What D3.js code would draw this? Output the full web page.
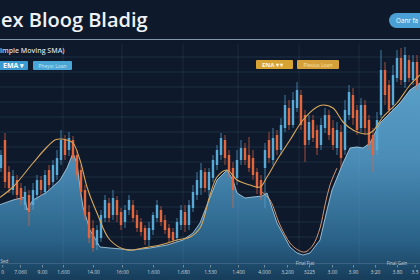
<!DOCTYPE html>
<html><head><meta charset="utf-8">
<script src="https://cdn.jsdelivr.net/npm/d3@7"></script>
<style>html,body{margin:0;padding:0;background:#0e1a2b;overflow:hidden}svg{display:block}</style>
</head><body><svg id="c" width="420" height="280"></svg>
<script>
// ---- data ----
const candleOpen  = [97,125,93,75,85,77,60,70,60,70, 85,73,95,83,90,105,125,115,125,110, 95,75,53,37,20,27,47,62,50,65, 53,43,55,60,50,43,37,25,35,47, 55,45,37,33,27,40,53,40,57,70, 77,93,75,87,100,110,125,110,97,87, 105,117,110,107,93,85,97,125,105,130, 115,137,157,140,157,170,150,125,145,135, 120,137,150,137,117,133,115,150,170,155, 137,160,145,130,115,150,195,180,160,187, 207,183,205,185,203];
const candleClose = [110,83,77,89,70,65,73,53,75,85, 75,90,80,100,107,125,110,127,107,90, 73,50,27,17,35,50,65,47,67,50, 40,55,65,47,37,33,25,37,50,60, 43,35,27,25,43,55,40,60,73,85, 95,77,93,105,115,127,107,93,75,105, 117,105,97,90,77,70,115,107,127,115, 140,160,140,165,175,140,120,143,127,117, 140,150,130,120,135,107,155,173,147,135, 160,137,120,110,145,195,170,155,190,207, 185,210,187,203,180];
const candleHigh  = [115,132,99,95,90,82,79,75,82,90, 89,95,100,105,115,135,130,133,129,115, 100,80,60,45,40,55,70,67,75,69, 57,60,70,65,55,47,40,43,53,65, 59,50,41,37,47,60,60,65,80,93, 102,97,97,110,120,132,130,115,103,115, 125,122,128,115,97,90,122,133,137,135, 147,170,165,173,183,175,155,150,150,140, 147,157,155,145,143,140,165,180,177,160, 167,165,150,137,153,215,203,185,200,215, 217,218,210,210,210];
const candleLow   = [93,77,72,70,65,60,55,39,55,65, 69,70,75,77,85,100,105,109,103,85, 67,45,22,13,15,23,43,43,45,43, 35,37,50,43,33,29,20,19,30,43, 39,31,23,21,23,35,33,35,53,65, 70,73,69,83,95,105,100,87,57,80, 100,100,93,85,71,65,57,102,100,110, 110,133,135,137,153,135,103,120,123,110, 115,132,125,115,110,97,110,145,140,130, 133,130,115,93,110,147,160,150,155,183, 180,177,183,180,175];

const areaIdx = [-0.5,3,6,6.5,7.5,8,11.5,14.75,16.5,18, 19,19.75,20.5,22.25,24.75,27.25,33,37.25,41.5,45.5, 48,49.75,51.5,54,56.5,58,59,61,63,65.25, 66.5,69,72.25,74,75.5,77.25,79.75,81.5,82.75,85.5, 87.25,89,90.5,92.25,94.75,97.25,99.75,102.25,104.75];
const areaVal = [60,65,68,55,62,65,73,85,97,112, 102,78,58,35,18,17,15,17,20,25, 32,42,60,85,95,85,72,67,68,69, 72,42,18,12,10,12,25,55,75,102, 117,118,117,122,142,152,162,175,182];

const smaIdx = [-0.5,3,8,11.5,13.5,14.75,16.5,18,19.75,21.5, 24,27.25,31.5,35.5,39.75,44,47.25,49.75,52.25,54, 56.5,59,62.25,64.75,66.5,69,72.25,75.5,79,80.5, 83,85.5,88,91.5,93,95.5,99,102.25,104.75];
const smaVal = [67,78,102,118,125,126,125,122,105,78, 52,25,15,17,20,25,28,37,70,88, 95,85,80,78,88,105,125,145,158,160, 157,143,135,131,134,148,162,180,190];

const emaIdx = [65.25,67.25,69.75,72.25,74.25,76,78,79.75,81,82.25,84];
const emaVal = [73,65,40,22,15,13,20,37,60,80,97];

const tickIdx = [0.3,4.75,10.25,15.5,23,30.25,38,45.5,52.25,59.25,65.75,71.5,77,82.75,88,93.5,99,103.4];
const tickLabels = ["0","7.060","9.00","1.600","14.00","16:00","1.600","1.680","1.530","1.400","4.000","3,200","3225","3.00","3.90","3:20","3.80","3.5"];
const gridLevels = [13,28,43,58,73,88,103,118,133,148,163,178,193,208];
const vGridIdx = [15.5,30.25,45.5,59.25,74.5,89.5];

const titleText = "ex Bloog Bladig";
const subText = "imple Moving SMA)";

// ---- drawing ----
const W = 420, H = 280;
const svg = d3.select('#c');
const x = d3.scaleLinear().domain([0,104]).range([1,417]);
const y = d3.scaleLinear().domain([0,221]).range([265,44]);
const FONT = "'Open Sans', 'Noto Sans', sans-serif";

const defs = svg.append('defs');
const grad = defs.append('linearGradient').attr('id','ag').attr('gradientUnits','userSpaceOnUse')
  .attr('x1',0).attr('x2',0).attr('y1',80).attr('y2',280);
[[0,'#5aa0c9'],[0.4,'#4a8cb6'],[0.8,'#2a6288'],[1,'#173d5a']].forEach(s=>
  grad.append('stop').attr('offset',s[0]).attr('stop-color',s[1]));

svg.append('rect').attr('width',W).attr('height',H).attr('fill','#0e1a2b');

// horizontal grid
svg.append('g').selectAll('line').data(gridLevels).join('line')
  .attr('x1',0).attr('x2',W).attr('y1',d=>y(d)).attr('y2',d=>y(d))
  .attr('stroke','#213249').attr('stroke-width',0.8);

// area
const areaPts = d3.zip(areaIdx, areaVal);
svg.append('path').datum(areaPts)
  .attr('d', d3.area().x(d=>x(d[0])).y0(H).y1(d=>y(d[1])))
  .attr('fill','url(#ag)');

// vertical grid
svg.append('g').selectAll('line').data(vGridIdx).join('line')
  .attr('x1',d=>x(d)).attr('x2',d=>x(d)).attr('y1',44).attr('y2',263)
  .attr('stroke','#9ab8d4').attr('stroke-opacity',0.13).attr('stroke-width',0.8);

svg.append('path').datum(areaPts)
  .attr('d', d3.line().x(d=>x(d[0])).y(d=>y(d[1])))
  .attr('fill','none').attr('stroke','#b8dcef').attr('stroke-width',0.9).attr('stroke-opacity',0.85);

// candles
const idx = d3.range(candleOpen.length);
const up = i => candleClose[i] >= candleOpen[i];
const cg = svg.append('g');
cg.selectAll('line').data(idx).join('line')
  .attr('x1',i=>x(i)).attr('x2',i=>x(i))
  .attr('y1',i=>y(candleHigh[i])).attr('y2',i=>y(candleLow[i]))
  .attr('stroke',i=>up(i)?'#58a9d6':'#e3663c').attr('stroke-width',0.7);
cg.selectAll('rect').data(idx).join('rect')
  .attr('x',i=>x(i)-1.2).attr('width',2.4)
  .attr('y',i=>y(Math.max(candleOpen[i],candleClose[i])))
  .attr('height',i=>Math.max(1,Math.abs(y(candleOpen[i])-y(candleClose[i]))))
  .attr('fill',i=>up(i)?'#58a9d6':'#e3663c');

// SMA line
svg.append('path').datum(d3.zip(smaIdx, smaVal))
  .attr('d', d3.line().x(d=>x(d[0])).y(d=>y(d[1])).curve(d3.curveCatmullRom))
  .attr('fill','none').attr('stroke','#d8a75c').attr('stroke-width',1.1);

// EMA line
svg.append('path').datum(d3.zip(emaIdx, emaVal))
  .attr('d', d3.line().x(d=>x(d[0])).y(d=>y(d[1])).curve(d3.curveCatmullRom))
  .attr('fill','none').attr('stroke','#e9a57a').attr('stroke-width',0.9);

// header
svg.append('text').attr('x',1).attr('y',27).text(titleText)
  .attr('font-family',FONT).attr('font-size',20).attr('font-weight',600).attr('fill','#eef2f6');
svg.append('line').attr('x1',0).attr('x2',W).attr('y1',39.5).attr('y2',39.5)
  .attr('stroke','#8596aa').attr('stroke-width',1);
svg.append('text').attr('x',0).attr('y',53).text(subText)
  .attr('font-family',FONT).attr('font-size',7).attr('font-weight',600).attr('fill','#d4dce4');

const buttons = [
  {x:-4,w:32,fill:'#3a9ad0',label:'EMA ▾',tx:3,anchor:'start',size:7,weight:700,color:'#ffffff'},
  {x:33,w:39,fill:'#49a6d6',label:'Pheyst Loan',tx:52.5,anchor:'middle',size:5,weight:400,color:'#c4e6f7'},
  {x:256,w:37,fill:'#d7a332',label:'ENA ▾ ▾',tx:262,anchor:'start',size:6,weight:700,color:'#fff6e0'},
  {x:297,w:42,fill:'#d5a03a',label:'Plesius Loan',tx:318,anchor:'middle',size:5,weight:400,color:'#f6e3b8'}
];
const btnY = [61,61,60,60];
buttons.forEach((b,i)=>{
  svg.append('rect').attr('x',b.x).attr('y',btnY[i]).attr('width',b.w).attr('height',9).attr('rx',1).attr('fill',b.fill);
  svg.append('text').attr('x',b.tx).attr('y',btnY[i]+6.6).text(b.label).attr('text-anchor',b.anchor)
    .attr('font-family',FONT).attr('font-size',b.size).attr('font-weight',b.weight).attr('fill',b.color);
});
svg.append('rect').attr('x',389).attr('y',13).attr('width',45).attr('height',15).attr('rx',7.5).attr('fill','#4a9fd4');
svg.append('text').attr('x',396).attr('y',22.6).text('Oanr fa')
  .attr('font-family',FONT).attr('font-size',6.3).attr('fill','#ffffff');

// x axis
svg.append('line').attr('x1',0).attr('x2',W).attr('y1',263.5).attr('y2',263.5)
  .attr('stroke','#7c98b0').attr('stroke-opacity',0.45).attr('stroke-width',0.7);
const ax = svg.append('g').attr('transform','translate(0,265)')
  .call(d3.axisBottom(x).tickValues(tickIdx).tickFormat((d,i)=>tickLabels[i]).tickSize(2.5).tickPadding(2.5).tickSizeOuter(0));
ax.select('.domain').remove();
ax.selectAll('line').attr('stroke','#a9bccd').attr('stroke-width',0.6);
ax.selectAll('text').attr('font-family',FONT).attr('font-size',5).attr('fill','#c7d2dc');

const notes = [{t:'Final Fiat',x:76},{t:'Final Gain',x:99}];
svg.append('g').selectAll('text').data(notes).join('text')
  .attr('x',d=>x(d.x)).attr('y',264.5).attr('text-anchor','middle').text(d=>d.t)
  .attr('font-family',FONT).attr('font-size',4.5).attr('fill','#c3cfda');
svg.append('text').attr('x',0.5).attr('y',262.5).attr('text-anchor','start').text('Sed')
  .attr('font-family',FONT).attr('font-size',4.5).attr('fill','#c3cfda');
</script></body></html>
